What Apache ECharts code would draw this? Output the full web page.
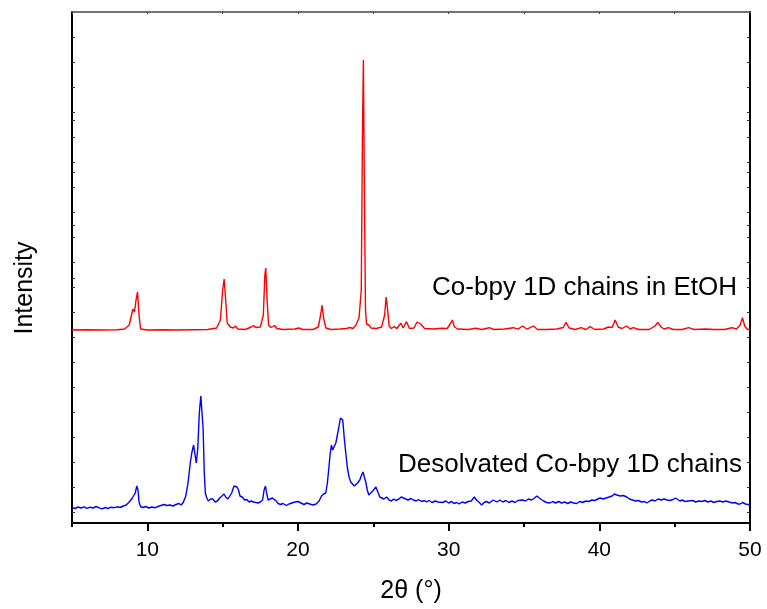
<!DOCTYPE html>
<html>
<head>
<meta charset="utf-8">
<script src="https://cdn.jsdelivr.net/npm/echarts@6/dist/echarts.min.js"></script>
<style>
  html, body { margin: 0; padding: 0; background: #fff; }
  #chart { width: 767px; height: 609px; }
</style>
</head>
<body>
<div id="chart"></div>
<script>
// 2theta / height above each pattern's own baseline (arbitrary units)
const redPattern = [
  [5.0,0],[6,0.3],[7,0],[8,0.3],[8.5,1],[8.8,5],[8.95,15],[9.05,21],[9.15,18],[9.25,30],[9.35,38],[9.45,15],[9.55,1],
  [10,0],[11,0.3],[12,0],[13,0.3],[14,0.5],[14.6,2],[14.85,10],[15.0,40],[15.1,51],[15.2,30],[15.3,7],[15.5,3],[15.7,2],
  [15.85,4],[16.0,1],[16.5,0.5],[16.9,3],[17.05,4.5],[17.2,2.5],[17.5,3],[17.7,15],[17.8,55],[17.86,62],[17.95,30],[18.05,5],
  [18.2,2.5],[18.45,4.5],[18.6,1.5],[19,0.5],[19.8,1],[20.05,2],[20.3,0.5],[21,0.5],[21.35,3],[21.5,15],[21.6,24.7],[21.7,12],
  [21.85,2],[22.2,0.5],[22.8,1],[23.2,1.5],[23.45,2.5],[23.65,1.5],[23.85,5],[24.05,12],[24.2,40],[24.28,200],[24.34,270],
  [24.4,150],[24.48,20],[24.55,6],[24.7,5],[24.85,2],[25.2,1.5],[25.55,3],[25.75,15],[25.85,33],[25.95,20],[26.05,4],[26.2,1.5],
  [26.38,3.5],[26.55,1.5],[26.83,6.7],[26.98,2],[27.2,8.3],[27.4,1.5],[27.7,2],[27.9,8],[28.02,10],[28.15,6],[28.4,1.5],[29,1],
  [29.53,1.7],[29.9,1.5],[30.1,6],[30.24,10],[30.38,3],[30.6,1],[31.3,0.5],[31.79,1.7],[32.2,0.5],[32.7,2.3],[33,0.5],[33.7,1],
  [34.29,2.3],[34.6,0.8],[34.91,4],[35.2,0.8],[35.62,4],[35.9,0.5],[36.5,0.5],[37.17,1],[37.6,2.5],[37.79,7.7],[38.0,2],[38.4,0.5],
  [38.79,2.3],[39.1,0.5],[39.39,3.3],[39.7,0.5],[40.3,1],[40.6,3],[40.85,2.5],[41.05,10],[41.25,3],[41.5,1.5],[41.82,4],[42.05,1],
  [42.26,2.3],[42.6,0.5],[43.3,0.5],[43.7,4],[43.88,7.7],[44.1,3],[44.3,1],[44.59,2.3],[44.9,0.5],[45.5,0.5],[45.92,2.3],[46.3,0.5],
  [47.03,1],[47.6,0.5],[48.3,0.5],[48.8,2.3],[49.1,1],[49.35,5],[49.5,12.3],[49.65,4],[49.8,1],[50,0]
];

const bluePattern = [
  [5.0,0.5],[5.2,-0.5],[5.4,1],[5.6,0],[5.8,1.2],[6.0,-0.3],[6.2,0.8],[6.4,0],[6.6,1.5],[6.8,0.2],[7.0,-0.8],[7.2,0.5],[7.4,-0.5],
  [7.6,0.8],[7.8,0.3],[8.0,1.2],[8.2,0.5],[8.4,2],[8.6,3],[8.8,6],[9.0,10],[9.1,9],[9.2,15],[9.3,22],[9.38,18],[9.45,6],[9.55,1.5],
  [9.7,0.5],[9.9,1.5],[10.1,0],[10.3,1],[10.5,0.2],[10.7,1.5],[10.9,2.5],[11.1,3.5],[11.3,2.5],[11.5,3],[11.7,2],[11.9,3.5],
  [12.1,4.5],[12.25,3],[12.4,6],[12.55,12],[12.7,25],[12.85,45],[12.95,55],[13.07,63],[13.15,55],[13.25,45],[13.35,60],[13.45,95],
  [13.55,112],[13.62,114],[13.7,80],[13.78,35],[13.85,15],[13.95,10],[14.05,7],[14.2,9],[14.35,9],[14.5,6],[14.65,7],[14.8,10],
  [14.95,12],[15.09,14],[15.2,11],[15.35,9],[15.47,9],[15.6,15],[15.75,22],[15.84,24],[15.95,21],[16.05,18],[16.15,12],[16.3,11],
  [16.45,8],[16.6,8.5],[16.75,6],[16.9,7],[17.05,6],[17.2,5.5],[17.35,5],[17.5,6],[17.65,8],[17.75,18],[17.84,22],[17.93,14],
  [18.02,8],[18.15,8.5],[18.3,10],[18.41,12],[18.55,7],[18.68,4.5],[18.85,3.5],[19.0,4.5],[19.23,2.5],[19.4,4],[19.6,5],[19.8,6],
  [20.0,6.5],[20.2,5],[20.4,3.5],[20.6,5],[20.78,4],[21.0,3],[21.2,4],[21.4,7],[21.56,12],[21.7,14],[21.84,15],[21.95,25],
  [22.06,42],[22.14,55],[22.22,63],[22.3,58],[22.38,60],[22.51,65],[22.6,72],[22.7,80],[22.82,90],[22.9,88],[22.97,88],[23.07,70],
  [23.17,55],[23.28,40],[23.39,31],[23.5,26],[23.62,24],[23.74,22],[23.84,22],[23.95,25],[24.1,28],[24.22,33],[24.32,36],[24.42,30],
  [24.5,26],[24.6,18],[24.7,13],[24.8,13],[24.9,16],[25.03,18],[25.17,21],[25.3,16],[25.43,11],[25.55,12],[25.7,9],[25.88,11],
  [26.05,8],[26.2,7],[26.35,9],[26.5,7.5],[26.7,9],[26.85,11],[26.98,12],[27.15,9],[27.3,8],[27.5,9.5],[27.65,8],[27.85,7],
  [28.0,8.5],[28.2,6.5],[28.4,7.5],[28.54,6],[28.7,7.5],[28.9,5.5],[29.1,7],[29.3,6],[29.42,7],[29.6,5.5],[29.8,7],[30.0,5],
  [30.2,6.5],[30.35,4.5],[30.53,5.5],[30.7,4],[30.9,6],[31.1,5],[31.3,6.5],[31.5,7],[31.7,11],[31.85,8],[32.0,6],[32.19,3],
  [32.35,5.5],[32.5,6.5],[32.7,5],[32.96,8],[33.2,6],[33.4,8],[33.6,6],[33.8,7.5],[34.0,5.5],[34.2,7],[34.4,5.5],[34.6,7.5],
  [34.73,6],[34.9,8],[35.1,7],[35.3,9],[35.5,8],[35.7,10],[35.85,12],[35.95,11],[36.1,9],[36.3,7],[36.5,5.5],[36.73,5],[36.9,6.5],
  [37.1,5],[37.3,6.5],[37.5,5],[37.7,6],[37.9,4.5],[38.1,6],[38.3,5],[38.5,4.5],[38.7,6.5],[38.9,5.5],[39.1,7],[39.3,6.5],[39.5,8],
  [39.7,7.5],[39.9,9],[40.05,10],[40.25,9],[40.45,10],[40.65,11],[40.85,12],[41.0,14],[41.15,13],[41.27,15],[41.4,12],[41.6,12.5],
  [41.82,11],[42.0,9],[42.2,8],[42.4,7],[42.6,7.5],[42.8,6],[43.0,6.5],[43.15,5],[43.35,7],[43.5,8],[43.7,7],[43.9,9],[44.1,8],
  [44.3,9],[44.5,8],[44.7,7.5],[44.9,8.5],[45.05,10],[45.15,9],[45.35,7],[45.5,8],[45.7,6.5],[45.9,7],[46.03,6],[46.2,7.5],[46.4,6],
  [46.6,7],[46.8,6.5],[47.0,7.5],[47.2,6],[47.4,7],[47.6,5.5],[47.8,6.5],[48.0,7],[48.2,6],[48.4,7],[48.6,6],[48.69,6.5],[48.85,5],
  [49.0,5.5],[49.2,4],[49.35,4],[49.5,5.5],[49.7,4],[49.85,3.5],[50.0,3]
];

const majorTicks = [10, 20, 30, 40, 50];
const minorTicks = [5, 15, 25, 35, 45];
const yTicks = [11, 36, 61, 86, 111, 136, 161, 186, 211, 236, 261, 286, 311, 336, 361, 386, 411, 436, 461, 486, 245, 298, 351, 403];

const RED_OFFSET = 193;   // stacked offset of the EtOH pattern
const BLUE_OFFSET = 15;

const FONT = '"Liberation Sans", Arial, sans-serif';

const chart = echarts.init(document.getElementById('chart'));

const shift = (arr, off) => arr.map(p => [p[0], p[1] + off]);

chart.setOption({
  backgroundColor: '#fff',
  animation: false,
  grid: { left: 72, right: 17, top: 12, bottom: 86 },
  xAxis: [
    {
      type: 'value', min: 5, max: 50, interval: 5, position: 'bottom',
      name: '2θ (°)', nameLocation: 'middle', nameGap: 56,
      nameTextStyle: { fontFamily: FONT, fontSize: 25, color: '#000' },
      axisLine: { lineStyle: { color: '#000', width: 2 } },
      axisTick: { length: 8, lineStyle: { color: '#000', width: 2 }, customValues: majorTicks },
      axisLabel: { customValues: majorTicks, fontFamily: FONT, fontSize: 21, color: '#000', margin: 17 },
      splitLine: { show: false }
    },
    {
      type: 'value', min: 5, max: 50, interval: 5, position: 'bottom',
      axisLine: { show: false },
      axisTick: { length: 4, lineStyle: { color: '#000', width: 2 }, customValues: minorTicks },
      axisLabel: { show: false },
      splitLine: { show: false }
    },
    {
      type: 'value', min: 5, max: 50, interval: 5, position: 'top',
      axisLine: { lineStyle: { color: '#444', width: 1.5 } },
      axisTick: { inside: true, length: 2, lineStyle: { color: '#444' } },
      axisLabel: { show: false },
      splitLine: { show: false }
    }
  ],
  yAxis: [
    {
      type: 'value', min: 0, max: 511, position: 'left',
      axisLine: { show: true, lineStyle: { color: '#000', width: 2 } },
      axisTick: { show: true, inside: true, length: 3, lineStyle: { color: '#333' }, customValues: yTicks },
      axisLabel: { show: false },
      splitLine: { show: false }
    },
    {
      type: 'value', min: 0, max: 511, position: 'right',
      axisLine: { show: true, lineStyle: { color: '#000', width: 2 } },
      axisTick: { show: true, inside: true, length: 3, lineStyle: { color: '#333' }, customValues: yTicks },
      axisLabel: { show: false },
      splitLine: { show: false }
    }
  ],
  series: [
    {
      type: 'line', name: 'Co-bpy 1D chains in EtOH', data: shift(redPattern, RED_OFFSET),
      showSymbol: false, lineStyle: { color: '#ff0000', width: 1.4 }, z: 3
    },
    {
      type: 'line', name: 'Desolvated Co-bpy 1D chains', data: shift(bluePattern, BLUE_OFFSET),
      showSymbol: false, lineStyle: { color: '#0000ff', width: 1.4 }, z: 3
    }
  ],
  graphic: [
    { type: 'text', x: 25, y: 288, rotation: Math.PI / 2,
      style: { text: 'Intensity', font: '25px ' + FONT, fill: '#000', align: 'center', verticalAlign: 'middle' } },
    { type: 'text', x: 737, y: 288,
      style: { text: 'Co-bpy 1D chains in EtOH', font: '26px ' + FONT, fill: '#000', align: 'right', verticalAlign: 'middle' } },
    { type: 'text', x: 742, y: 465,
      style: { text: 'Desolvated Co-bpy 1D chains', font: '26px ' + FONT, fill: '#000', align: 'right', verticalAlign: 'middle' } }
  ]
});
</script>
</body>
</html>
